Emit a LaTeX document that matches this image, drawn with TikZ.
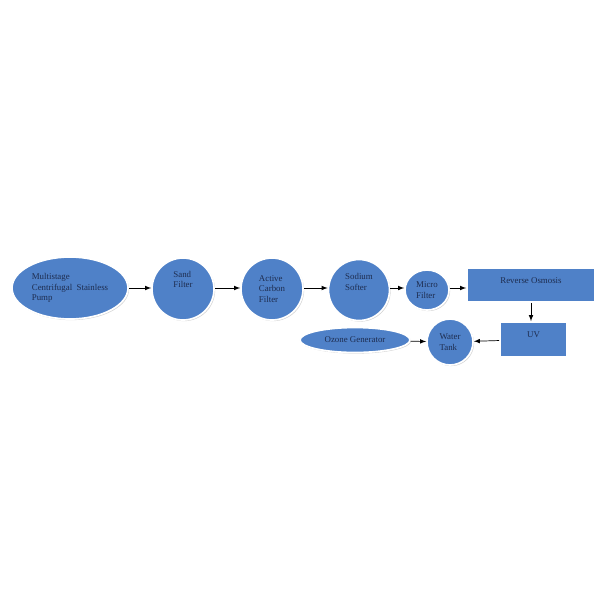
\documentclass[tikz,border=0pt]{standalone}
\usepackage{fontspec}
\setmainfont{Liberation Serif}
\usepackage{tikz}
\usetikzlibrary{shapes.geometric}
\usetikzlibrary{shadows}
\usetikzlibrary{positioning}
\definecolor{stageblue}{RGB}{79,129,200}
\definecolor{stagetext}{RGB}{30,45,80}
\tikzset{stage/.style={fill=stageblue,draw=white,line width=1.2pt,inner sep=0pt,
  drop shadow={shadow xshift=0.8pt,shadow yshift=-0.8pt,opacity=0.35},
  text=stagetext,font=\fontsize{6.3}{7.6}\selectfont,align=left},
  disc/.style={stage,circle,minimum size=#1},
  oval/.style={stage,ellipse},
  box/.style={stage,rectangle},
  boxtitle/.style={anchor=north,yshift=-4pt,text=stagetext,font=\fontsize{6.3}{7.6}\selectfont},
  flow/.style={-latex,line width=0.5pt}}
\begin{document}
\begin{tikzpicture}[x=0.025cm,y=-0.025cm]
\useasboundingbox (0,0) rectangle (600,600);
\node[oval,minimum width=2.9cm,minimum height=1.55cm] (pump) at (70,288) {Multistage\\Centrifugal~ Stainless\\Pump};
\node[disc=1.55cm] (sand) at (183,289) {Sand\\Filter\\[6pt]};
\node[disc=1.55cm] (carbon) at (272,289) {Active\\Carbon\\Filter};
\node[disc=1.525cm] (sodium) at (359,290) {Sodium\\Softer\\[4pt]};
\node[oval,minimum width=1.1cm,minimum height=1cm] (micro) at (427,290) {Micro\\Filter};
\node[box,minimum width=3.2cm,minimum height=0.85cm,label={[boxtitle]north:Reverse Osmosis}] (ro) at (531,285) {};
\node[box,minimum width=1.675cm,minimum height=0.875cm,label={[boxtitle]north:UV}] (uv) at (533.5,339.5) {};
\node[disc=1.15cm] (tank) at (450,342) {Water\\Tank};
\node[oval,minimum width=2.75cm,minimum height=0.625cm] (ozone) at (355,340) {Ozone Generator};
\coordinate (level) at (0,288);
\draw[flow] (pump.east |- level) -- (sand.west |- level);
\draw[flow] (sand.east |- level) -- (carbon.west |- level);
\draw[flow] (carbon.east |- level) -- (sodium.west |- level);
\draw[flow] (sodium.east |- level) -- (micro.west |- level);
\draw[flow] (micro.east |- level) -- (ro.west |- level);
\draw[flow] (ro) -- (ro |- uv.north);
\draw[flow] (uv) -- (tank);
\draw[flow] (ozone) -- (tank);
\end{tikzpicture}
\end{document}
